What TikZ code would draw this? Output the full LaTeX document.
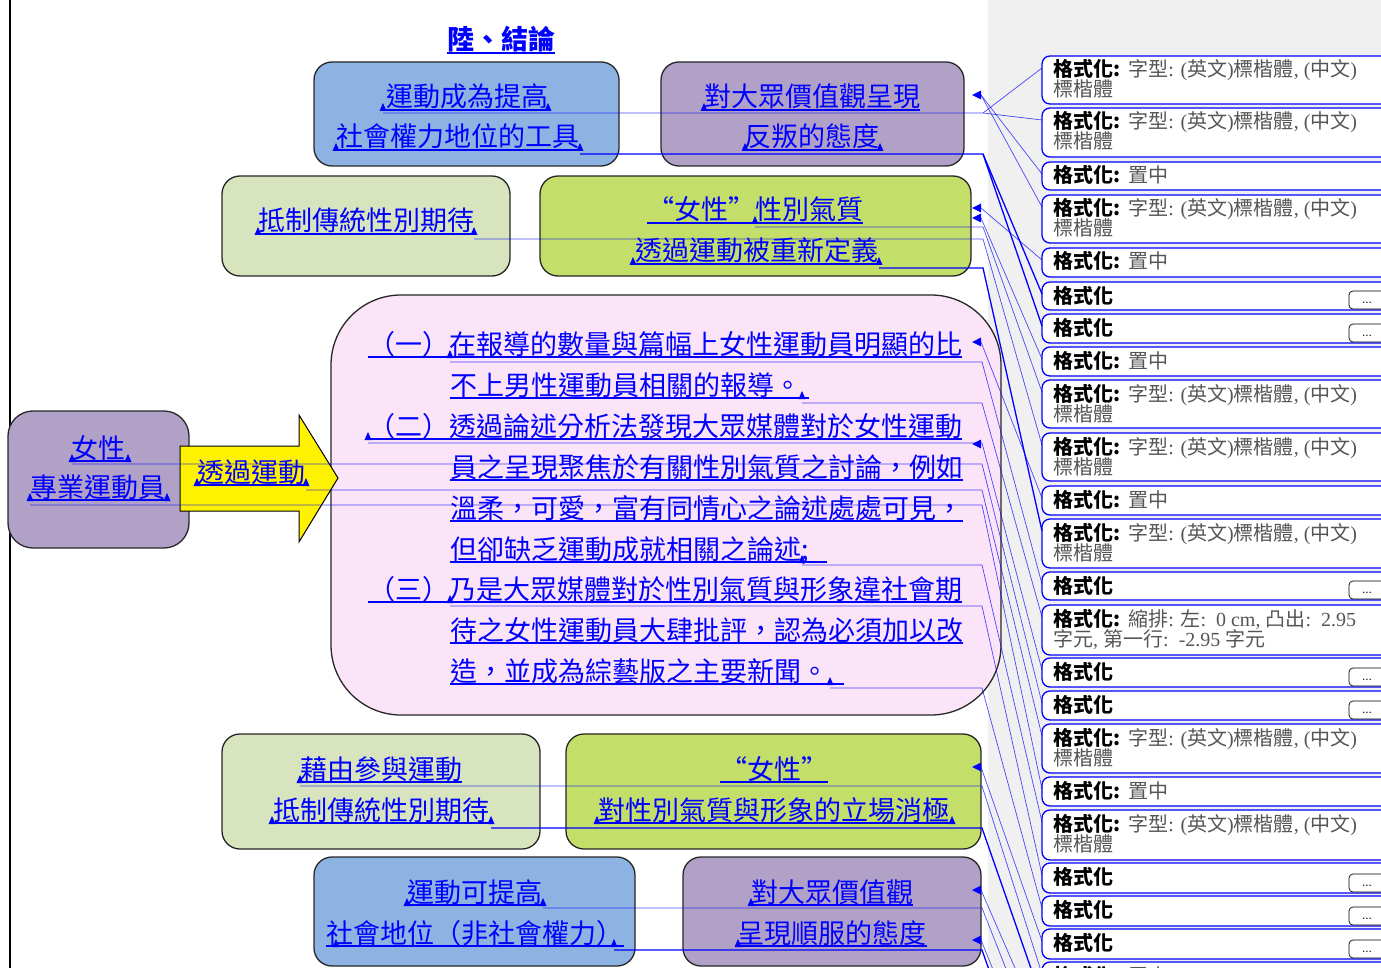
\documentclass[tikz,border=0pt]{standalone}
\usepackage{fontspec}
\newfontfamily\cjk{Noto Sans CJK TC}
\newfontfamily\lser{Liberation Serif}
\newfontfamily\lsans{Liberation Sans}
\definecolor{cblue}{RGB}{141,179,226}
\definecolor{cpurp}{RGB}{178,161,199}
\definecolor{cgg}{RGB}{215,228,189}
\definecolor{cgreen}{RGB}{195,222,105}
\definecolor{cpink}{RGB}{252,228,248}
\definecolor{cgrey}{RGB}{240,240,240}
\definecolor{txg}{RGB}{85,85,85}
\definecolor{pblue}{RGB}{0,0,255}
\newcommand\ulin[1]{\draw[ulst] (#1.south west) -- (#1.south east);}
\newcommand\mkr[2]{\fill[pblue] (#1,#2) ++(-3.5,0) -- ++(7,0) -- ++(-3.5,-8) -- cycle;}
\newcommand\lar[2]{\fill[pblue] (#1,#2) -- ++(9,-4.5) -- ++(0,9) -- cycle;}
\newcommand\bframe[3]{\draw[balst] (1042,#2) rectangle (1420,#3); \coordinate (#1) at (1042,#2+12);}
\newcommand\gf{{\color{txg}\cjk 字型\lser: (\cjk 英文\lser)\cjk 標楷體\lser, (\cjk 中文\lser)}}
\newcommand\balF[3]{\bframe{#1}{#2}{#3}
  \node[bt] at (1053,#2+21) {{\cjk\bfseries 格式化:} \gf};
  \node[bt] at (1053,#2+41) {{\color{txg}\cjk 標楷體}};}
\newcommand\balC[3]{\bframe{#1}{#2}{#3}
  \node[bt] at (1053,#2+21) {{\cjk\bfseries 格式化:} {\color{txg}\cjk 置中}};}
\newcommand\balB[3]{\bframe{#1}{#2}{#3}
  \node[bt] at (1053,#2+21) {{\cjk\bfseries 格式化}};
  \draw[btn] (1349,#3-19) rectangle (1400,#3-1);
  \node[inner sep=0pt,font=\lsans\fontsize{12}{12}\selectfont] at (1367,#3-7) {...};}
\newcommand\balI[3]{\bframe{#1}{#2}{#3}
  \node[bt] at (1053,#2+21) {{\cjk\bfseries 格式化:} {\color{txg}\cjk 縮排\lser: \cjk 左\lser:\ \ 0 cm, \cjk 凸出\lser:\ \ 2.95}};
  \node[bt] at (1053,#2+41) {{\color{txg}\cjk 字元\lser, \cjk 第一行\lser:\ \ -2.95 \cjk 字元}};}
\tikzset{
  bxs/.style={draw=black!85, line width=1.3pt, rounded corners=18pt, inner sep=0pt},
  ct/.style={text=pblue, font=\cjk\fontsize{27}{27}\selectfont, inner xsep=0pt, inner ysep=0pt, text height=23pt, text depth=3pt},
  pl/.style={ct, anchor=west},
  ulst/.style={pblue, line width=2pt},
  balst/.style={draw=pblue, fill=white, line width=1.3pt, rounded corners=8pt},
  btn/.style={draw=black, fill=white, line width=0.7pt, rounded corners=4pt},
  bt/.style={anchor=base west, inner sep=0pt, font=\fontsize{20}{20}\selectfont},
  lead/.style={pblue, line width=0.7pt, opacity=0.7},
  leadk/.style={pblue, line width=1.3pt}
}
\begin{document}
\begin{tikzpicture}[x=1pt,y=-1pt]
\useasboundingbox (0,0) rectangle (1381,968);
\clip (0,0) rectangle (1381,968);
\fill[cgrey] (988,0) rectangle (1381,968);
\draw[line width=1.5pt] (10,0) -- (10,968);

% ---------- boxes
\node[bxs, fill=cblue, minimum width=305, minimum height=104] (box1) at (466.5,114) {};
\node[bxs, fill=cpurp, minimum width=303, minimum height=104] (box2) at (812.5,114) {};
\node[bxs, fill=cgg, minimum width=288, minimum height=100] (box3) at (366,226) {};
\node[bxs, fill=cgreen, minimum width=431, minimum height=100] (box4) at (755.5,226) {};
\node[bxs, fill=cpink, rounded corners=70pt, minimum width=670, minimum height=420] (box5) at (666,505) {};
\node[bxs, fill=cpurp, rounded corners=25pt, minimum width=181, minimum height=137] (box6) at (98.5,479.5) {};
\node[bxs, fill=cgg, minimum width=318, minimum height=115] (box7) at (381,791.5) {};
\node[bxs, fill=cgreen, minimum width=415, minimum height=115] (box8) at (773.5,791.5) {};
\node[bxs, fill=cblue, minimum width=321, minimum height=109] (box9) at (474.5,911.5) {};
\node[bxs, fill=cpurp, minimum width=298, minimum height=109] (box10) at (832,911.5) {};
\draw[fill=yellow, line width=1pt] (180,446) -- (299,446) -- (299,415) -- (338,478) -- (299,542) -- (299,511) -- (180,511) -- cycle;
\coordinate (arrowtip) at (338,478);

% ---------- texts
\node[ct, font=\cjk\bfseries\fontsize{27}{27}\selectfont] (title) at (501,40) {陸、結論};
\node[ct] (t1a) at (467,97) {運動成為提高};
\node[ct] (t1b) at (458,137) {社會權力地位的工具};
\node[ct] (t2a) at (812,97) {對大眾價值觀呈現};
\node[ct] (t2b) at (812,137) {反叛的態度};
\node[ct] (t3a) at (366,221) {抵制傳統性別期待};
\node[ct] (t4a) at (755,210) {“女性”性別氣質};
\node[ct] (t4b) at (757,251) {透過運動被重新定義};
\node[ct] (t5a) at (98,448) {女性};
\node[ct] (t5b) at (98,487) {專業運動員};
\node[ct] (t6) at (251,472) {透過運動};
\node[ct] (t7a) at (381,769) {藉由參與運動};
\node[ct] (t7b) at (381,810) {抵制傳統性別期待};
\node[ct] (t8a) at (774,769) {“女性”};
\node[ct] (t8b) at (774,810) {對性別氣質與形象的立場消極};
\node[ct] (t9a) at (475,892) {運動可提高};
\node[ct] (t9b) at (475,933) {社會地位（非社會權力）};
\node[ct] (t10a) at (832,892) {對大眾價值觀};
\node[ct] (t10b) at (832,933) {呈現順服的態度};
\node[pl] (p1) at (368,344) {（一）在報導的數量與篇幅上女性運動員明顯的比};
\node[pl] (p2) at (450,385) {不上男性運動員相關的報導。\hspace*{8pt}};
\node[pl] (p3) at (368,426) {（二）透過論述分析法發現大眾媒體對於女性運動};
\node[pl] (p4) at (450,467) {員之呈現聚焦於有關性別氣質之討論，例如};
\node[pl] (p5) at (450,508) {溫柔，可愛，富有同情心之論述處處可見，};
\node[pl] (p6) at (450,549) {但卻缺乏運動成就相關之論述;\hspace*{18pt}};
\node[pl] (p7) at (368,589) {（三）乃是大眾媒體對於性別氣質與形象違社會期};
\node[pl] (p8) at (450,630) {待之女性運動員大肆批評，認為必須加以改};
\node[pl] (p9) at (450,671) {造，並成為綜藝版之主要新聞。\hspace*{16pt}};
\foreach \n in {title,t1a,t1b,t2a,t2b,t3a,t4a,t4b,t5a,t5b,t6,t7a,t7b,t8a,t8b,t9a,t9b,t10a,t10b,p1,p2,p3,p4,p5,p6,p7,p8,p9} {\ulin{\n}}

% ---------- balloons
\balF{bl1}{56}{104}
\balF{bl2}{108}{157}
\balC{bl3}{162}{190}
\balF{bl4}{195}{243}
\balC{bl5}{248}{277}
\balB{bl6}{282}{310}
\balB{bl7}{314}{343}
\balC{bl8}{347}{376}
\balF{bl9}{380}{428}
\balF{bl10}{433}{481}
\balC{bl11}{486}{515}
\balF{bl12}{519}{568}
\balB{bl13}{572}{600}
\balI{bl14}{605}{655}
\balB{bl15}{658}{687}
\balB{bl16}{691}{720}
\balF{bl17}{724}{773}
\balC{bl18}{777}{806}
\balF{bl19}{810}{860}
\balB{bl20}{863}{893}
\balB{bl21}{896}{926}
\balB{bl22}{929}{959}
\balC{bl23}{962}{1000}
\coordinate (bx1) at (1042,1000);
\coordinate (bx2) at (1042,1030);
\coordinate (bx3) at (1042,1060);
\coordinate (bx4) at (1042,1090);
\coordinate (bx5) at (1042,1120);

% ---------- leader anchors
\coordinate (s1) at (383,113); \coordinate (e1) at (983,113);
\coordinate (e0) at (981,95);
\coordinate (s2) at (580,154); \coordinate (e2) at (983,154);
\coordinate (e3) at (981,208);
\coordinate (e4) at (981,218);
\coordinate (s5) at (755,227); \coordinate (e5) at (983,227);
\coordinate (s6) at (474,239); \coordinate (e6) at (983,239);
\coordinate (s7) at (879,268); \coordinate (e7) at (983,268);
\coordinate (e8) at (981,342);
\coordinate (s9) at (450,362); \coordinate (e9) at (982,362);
\coordinate (s10) at (802,403); \coordinate (e10) at (982,403);
\coordinate (s11) at (368,443); \coordinate (e11) at (982,443);
\coordinate (s12) at (72,464); \coordinate (e12) at (982,464);
\coordinate (s13) at (306,490); \coordinate (e13) at (982,490);
\coordinate (s14) at (30,505); \coordinate (e14) at (982,505);
\coordinate (s15) at (802,565); \coordinate (e15) at (982,565);
\coordinate (s16) at (450,606); \coordinate (e16) at (982,606);
\coordinate (s17) at (830,688); \coordinate (e17) at (982,688);
\coordinate (e18) at (981,767);
\coordinate (s19) at (300,786); \coordinate (e19) at (982,786);
\coordinate (s20) at (491,828); \coordinate (e20) at (982,828);
\coordinate (e21) at (981,890);
\coordinate (s22) at (543,908); \coordinate (e22) at (982,908);
\coordinate (e23) at (981,940);
\coordinate (s24) at (614,950); \coordinate (e24) at (982,950);

% ---------- leaders
\draw[lead] (s1) -- (e1) -- (bl1);
\draw[lead] (e1) -- (bl2);
\draw[lead] (e0) -- (bl3);
\draw[lead] (e0) -- (bl4);
\draw[leadk] (s2) -- (e2) -- (bl6);
\draw[leadk] (e2) -- (bl7);
\draw[lead] (e3) -- (bl5);
\draw[lead] (e4) -- (bl8);
\draw[lead] (s5) -- (e5) -- (bl9);
\draw[lead] (s6) -- (e6) -- (bl10);
\draw[leadk] (s7) -- (e7) -- (bl12);
\draw[lead] (e8) -- (bl11);
\draw[lead] (s9) -- (e9) -- (bl13);
\draw[lead] (s10) -- (e10) -- (bl14);
\draw[lead] (s11) -- (e11) -- (bl15);
\draw[lead] (s12) -- (e12) -- (bl16);
\draw[lead] (s13) -- (e13) -- (bl17);
\draw[lead] (s14) -- (e14) -- (bl18);
\draw[lead] (s15) -- (e15) -- (bl19);
\draw[lead] (s16) -- (e16) -- (bl20);
\draw[lead] (s17) -- (e17) -- (bl21);
\draw[lead] (e18) -- (bl22);
\draw[lead] (s19) -- (e19) -- (bl23);
\draw[leadk] (s20) -- (e20) -- (bx1);
\draw[lead] (e21) -- (bx2);
\draw[lead] (s22) -- (e22) -- (bx3);
\draw[lead] (e23) -- (bx4);
\draw[leadk] (s24) -- (e24) -- (bx5);

% ---------- markers
\foreach \x/\y in {383/111,548/111,336/151,580/151,704/111,745/151,880/151,258/235,474/235,755/224,633/265,879/265,450/358,802/399,368/440,802/563,450/603,830/685,72/462,128/462,30/501,167/501,197/486,306/486,300/783,272/824,491/824,597/824,952/824,407/906,543/906,336/947,614/947,751/906,738/947} {\mkr{\x}{\y}}
\foreach \y in {95,208,218,342,444,767,890,940} {\lar{972}{\y}}
\end{tikzpicture}
\end{document}
